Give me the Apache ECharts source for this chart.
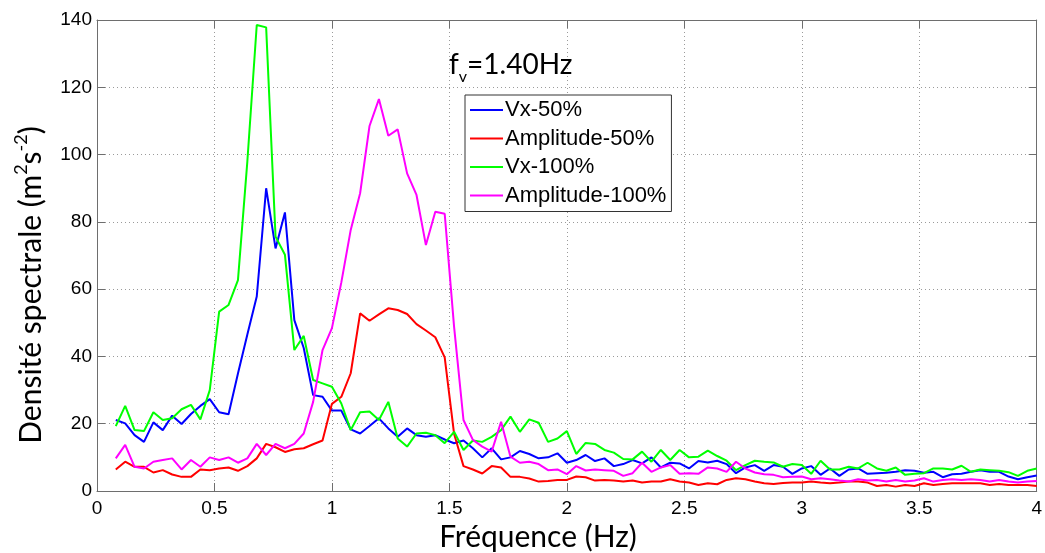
<!DOCTYPE html>
<html>
<head>
<meta charset="utf-8">
<script src="https://cdn.jsdelivr.net/npm/echarts@6/dist/echarts.min.js"></script>
<style>
html,body{margin:0;padding:0;background:#fff;}
#chart{width:1045px;height:553px;}
</style>
</head>
<body>
<div id="chart"></div>
<script>
// Frequencies (Hz)
const freq = [
  0.08,0.12,0.16,0.20,0.24,0.28,0.32,0.36,0.40,0.44,
  0.48,0.52,0.56,0.60,0.64,0.68,0.72,0.76,0.80,0.84,
  0.88,0.92,0.96,1.00,1.04,1.08,1.12,1.16,1.20,1.24,
  1.28,1.32,1.36,1.40,1.44,1.48,1.52,1.56,1.60,1.64,
  1.68,1.72,1.76,1.80,1.84,1.88,1.92,1.96,2.00,2.04,
  2.08,2.12,2.16,2.20,2.24,2.28,2.32,2.36,2.40,2.44,
  2.48,2.52,2.56,2.60,2.64,2.68,2.72,2.76,2.80,2.84,
  2.88,2.92,2.96,3.00,3.04,3.08,3.12,3.16,3.20,3.24,
  3.28,3.32,3.36,3.40,3.44,3.48,3.52,3.56,3.60,3.64,
  3.68,3.72,3.76,3.80,3.84,3.88,3.92,3.96,4.00
];
const vx50 = [
  21.1,20.1,16.6,14.6,20.4,18.1,22.4,19.9,22.9,25.3,
  27.3,23.4,22.8,34.9,46.5,57.8,90.0,72.1,82.8,50.8,
  42.5,28.5,28.0,23.9,23.9,18.3,17.1,19.3,21.6,18.6,
  16.1,18.6,16.6,16.1,16.6,15.3,14.2,15.0,12.7,10.0,
  12.7,9.4,10.0,11.9,11.0,9.7,10.0,11.2,8.4,9.2,
  10.7,8.9,9.7,7.4,8.0,9.2,8.2,10.0,7.0,8.4,
  8.2,6.7,8.9,8.5,9.0,8.0,5.3,7.0,7.7,6.0,
  7.7,7.2,5.1,6.7,7.4,4.8,6.7,4.5,6.4,6.7,
  5.1,5.3,5.4,5.7,6.2,6.0,5.4,5.7,4.1,5.0,
  5.1,5.7,6.2,5.7,5.7,4.3,3.5,4.1,4.6
];
const amp50 = [
  6.4,8.7,7.2,7.2,5.5,6.2,4.9,4.2,4.2,6.4,
  6.2,6.7,7.0,6.0,7.4,9.7,14.0,13.0,11.6,12.4,
  12.7,13.9,15.0,25.9,28.0,35.0,52.8,50.6,52.5,54.3,
  53.8,52.6,49.6,47.7,45.7,39.7,17.0,7.4,6.4,5.2,
  7.4,7.0,4.2,4.2,3.7,2.8,3.0,3.3,3.3,4.3,
  4.1,3.1,3.3,3.1,2.8,3.1,2.5,2.8,2.8,3.5,
  2.8,2.5,1.8,2.3,2.0,3.3,3.8,3.5,2.8,2.3,
  2.1,2.4,2.5,2.5,2.8,2.5,2.3,2.5,2.8,2.8,
  2.5,1.5,1.8,1.3,1.8,1.5,2.3,1.8,2.1,2.3,
  2.3,2.3,2.3,1.8,2.1,1.8,1.8,1.8,1.5
];
const vx100 = [
  19.3,25.3,18.1,17.8,23.4,21.1,21.6,24.3,25.6,21.3,
  30.0,53.3,55.3,62.7,98.0,138.5,137.8,75.6,70.2,41.9,
  46.1,33.0,32.0,31.0,26.0,18.1,23.4,23.6,21.1,26.5,
  15.6,13.2,17.1,17.3,16.6,14.2,17.6,12.2,15.0,14.6,
  16.1,18.1,22.1,17.6,21.3,20.3,14.6,15.6,17.8,11.0,
  14.3,14.0,12.2,11.4,9.5,9.4,11.7,8.7,12.2,9.2,
  12.2,10.0,10.2,12.0,10.4,9.0,6.2,7.7,9.0,8.7,
  8.5,7.2,8.0,7.7,5.1,9.0,6.4,6.4,7.2,6.7,
  8.4,6.7,6.0,7.0,4.8,5.1,5.3,6.7,6.7,6.4,
  7.5,5.7,6.4,6.2,6.0,5.6,4.5,6.0,6.7
];
const amp100 = [
  9.7,13.7,7.2,6.7,8.7,9.2,9.7,6.4,9.2,7.2,
  10.0,9.2,10.0,8.4,9.7,14.0,10.7,14.0,12.7,14.0,
  17.1,26.5,41.9,48.4,62.0,77.6,88.5,108.5,116.5,105.6,
  107.5,94.4,88.0,73.1,83.0,82.4,48.8,21.1,15.2,13.2,
  11.7,20.6,10.2,8.4,8.7,8.0,6.2,6.4,5.0,7.4,
  6.1,6.4,6.2,6.0,4.5,5.3,8.4,5.7,7.0,7.7,
  5.1,5.3,5.1,7.0,6.7,5.7,8.7,6.7,5.5,5.0,
  4.8,4.1,4.2,4.3,3.5,3.8,3.5,3.1,2.8,3.5,
  3.1,3.3,2.8,3.3,2.8,3.1,3.8,2.8,3.3,3.5,
  3.3,3.5,3.3,2.8,3.3,2.8,2.5,2.8,3.0
];
const seriesNames = ['Vx-50%','Amplitude-50%','Vx-100%','Amplitude-100%'];
const seriesColors = ['#0000ff','#ff0000','#00ff00','#ff00ff'];
const seriesValues = [vx50, amp50, vx100, amp100];

const tickFont = '"Liberation Sans",Arial,sans-serif';
const titleFont = 'Lato,"Open Sans",sans-serif';
const axisColor = '#6e6e6e';

const chart = echarts.init(document.getElementById('chart'), null, {renderer:'canvas'});
const grid = {left:97, right:8, top:20, bottom:62};
const gridStyle = {show:true, lineStyle:{color:'#9a9a9a', type:[1,3], width:1}};

const series = seriesValues.map((vals,i)=>({
  name: seriesNames[i],
  type:'line',
  data: freq.map((f,j)=>[f, vals[j]]),
  showSymbol:false,
  symbol:'none',
  lineStyle:{color:seriesColors[i], width:2},
  itemStyle:{color:seriesColors[i]},
  animation:false,
  z: 3+i
}));

const tickCommon = {show:true, inside:true, length:8, lineStyle:{color:axisColor}};
const lineCommon = {show:true, onZero:false, lineStyle:{color:axisColor, width:1}};

chart.setOption({
  backgroundColor:'#ffffff',
  animation:false,
  title:{
    text:'{a|f}{b|v}{a|=1.40Hz}',
    left:444, top:44,
    textStyle:{
      fontWeight:'normal',
      rich:{
        a:{fontFamily:titleFont, fontSize:28, fontWeight:'normal', color:'#000', verticalAlign:'bottom', lineHeight:30},
        b:{fontFamily:titleFont, fontSize:16, fontWeight:'normal', color:'#000', verticalAlign:'bottom', lineHeight:24, padding:[0,0,-6,0]}
      }
    }
  },
  graphic:[
    {
      type:'text', x:538, y:537,
      style:{text:'Fréquence (Hz)', align:'center', verticalAlign:'middle',
        font:'normal 30px ' + titleFont, fill:'#000'},
      silent:true
    },
    {
      type:'text', x:29, y:285, rotation:Math.PI/2,
      style:{
        text:'{a|Densité spectrale (m}{s|2}{a|s}{s|-2}{a|)}',
        align:'center', verticalAlign:'middle',
        rich:{
          a:{fontFamily:titleFont, fontSize:30, fill:'#000', verticalAlign:'bottom', lineHeight:34},
          s:{fontFamily:titleFont, fontSize:18, fill:'#000', verticalAlign:'top', lineHeight:34}
        }
      },
      silent:true
    }
  ],
  legend:{
    orient:'vertical',
    left:465, top:95,
    data: seriesNames,
    icon:'rect',
    itemWidth:33, itemHeight:2,
    itemGap:6.5,
    padding:[4,5,5,5],
    backgroundColor:'#fff',
    borderColor:'#333', borderWidth:1,
    textStyle:{fontFamily:'"Liberation Sans",Arial,sans-serif', fontSize:22, color:'#000', lineHeight:20, padding:[0,0,0,-3]}
  },
  grid: grid,
  xAxis:[{
    type:'value', min:0, max:4, interval:0.5,
    axisLine:lineCommon,
    axisTick:tickCommon,
    axisLabel:{fontFamily:tickFont, fontSize:19, color:'#000', margin:8},
    splitLine:gridStyle
  },{
    type:'value', min:0, max:4, interval:0.5, position:'top',
    axisLine:lineCommon,
    axisTick:tickCommon,
    axisLabel:{show:false}, splitLine:{show:false}
  }],
  yAxis:[{
    type:'value', min:0, max:140, interval:20,
    axisLine:lineCommon,
    axisTick:tickCommon,
    axisLabel:{fontFamily:tickFont, fontSize:19, color:'#000', margin:5},
    splitLine:gridStyle
  },{
    type:'value', min:0, max:140, interval:20, position:'right',
    axisLine:lineCommon,
    axisTick:tickCommon,
    axisLabel:{show:false}, splitLine:{show:false}
  }],
  series: series
});
</script>
</body>
</html>
